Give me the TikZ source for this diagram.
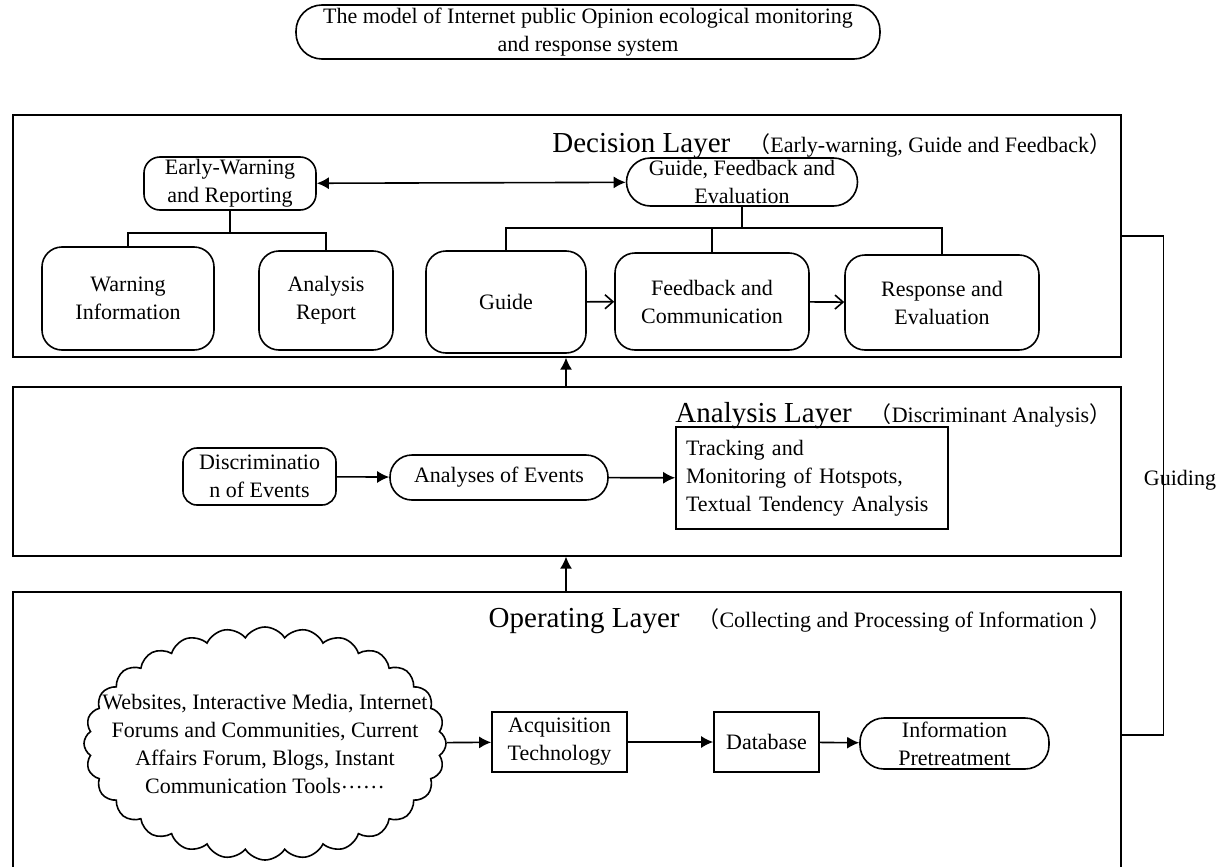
\documentclass[tikz,border=0pt]{standalone}
\usepackage{fontspec}
\setmainfont{Liberation Serif}
\newfontfamily\cjk{Noto Sans CJK SC}
\usepackage{tikz}
\usetikzlibrary{arrows.meta,shapes.symbols}

\newcommand{\remark}[1]{\hspace{9pt}{\fontsize{11}{14}\selectfont{\cjk （}#1{\cjk ）}}}

\begin{document}
\begin{tikzpicture}[-,>={Latex[length=6pt,width=6pt]},thick,x=0.5pt,y=-0.5pt,
  every node/.style={font=\fontsize{11}{14}\selectfont,align=center,inner sep=0pt},
  layer/.style={draw,anchor=north west,minimum width=554pt},
  head/.style={anchor=base east,font=\fontsize{14.5}{17}\selectfont},
  rbox/.style={draw,rounded corners=10pt},
  pill/.style={draw,rounded corners=12pt},
  sbox/.style={draw},
  open/.style={-{Straight Barb[length=4pt,width=7pt]}}]

\useasboundingbox (0,0) rectangle (1226,867);

\node[pill,rounded corners=13pt,minimum width=292pt,minimum height=27pt] (title) at (588,32)
  {The model of Internet public Opinion ecological monitoring\\and response system};

% the three layers
\node[layer,minimum height=121pt] (dec) at (12,114) {};
\node[layer,minimum height=84.5pt] (ana) at (12,386) {};
\node[layer,minimum height=143pt] (ope) at (12,591) {};

\node[head] (dech) at (1112,152) {Decision Layer\remark{Early-warning, Guide and Feedback}};
\node[head] (anah) at (1112,422) {Analysis Layer\remark{Discriminant Analysis}};
\node[head] (opeh) at (1112,627) {Operating Layer\remark{Collecting and Processing of Information }};

% decision layer
\node[rbox,rounded corners=8pt,minimum width=86pt,minimum height=26.5pt] (ew) at (230,183.5) {Early-Warning\\and Reporting};
\node[pill,minimum width=115.5pt,minimum height=24pt] (gfe) at (742,182) {Guide, Feedback and\\Evaluation};

\node[rbox,minimum width=86pt,minimum height=51.5pt] (warn) at (128,298.5) {Warning\\Information};
\node[rbox,minimum width=67pt,minimum height=49.5pt] (arep) at (326,300.5) {Analysis\\Report};
\node[rbox,minimum width=80pt,minimum height=51pt]   (guide) at (506,302) {Guide};
\node[rbox,minimum width=97pt,minimum height=48.5pt] (fbc) at (712,301.5) {Feedback and\\Communication};
\node[rbox,minimum width=97pt,minimum height=47.5pt] (resp) at (942,302.5) {Response and\\Evaluation};

% analysis layer
\node[rbox,rounded corners=7pt,minimum width=76.5pt,minimum height=28.5pt] (discr) at (259.5,476.5) {Discriminatio\\n of Events};
\node[pill,rounded corners=11pt,minimum width=109pt,minimum height=22.5pt] (aoe) at (499,477.5) {Analyses of Events};
\node[sbox,text width=126pt,align=left,inner sep=5pt,minimum height=51pt] (track) at (812,478)
  {Tracking and\\Monitoring of Hotspots,\\Textual Tendency Analysis};

% operating layer
\node[cloud,draw,cloud puffs=28,cloud puff arc=115,cloud ignores aspect,
  minimum width=181pt,minimum height=116.5pt] (cloud) at (265,743.5) {};
\node (cloudtxt) at (cloud.center) {Websites, Interactive Media, Internet\\Forums and Communities, Current\\Affairs Forum, Blogs, Instant\\Communication Tools\raisebox{2.5pt}{……}};
\node[sbox,minimum width=67.5pt,minimum height=30pt] (acq) at (559.5,742) {Acquisition\\Technology};
\node[sbox,minimum width=52.5pt,minimum height=30pt] (db) at (766.5,742) {Database};
\node[pill,minimum width=94.5pt,minimum height=25.5pt] (info) at (954.5,743.5) {Information\\Pretreatment};

\node[anchor=base] (guiding) at (1180,485) {Guiding};

% tree lines
\draw (ew.south) -- ++(0,22) -| (warn.north);
\draw (ew.south) -- ++(0,22) -| (arep.north);
\draw (gfe.south) -- ++(0,21) -| (guide.north);
\draw (gfe.south) -- ++(0,21) -| (fbc.north);
\draw (gfe.south) -- ++(0,21) -| (resp.north);

\path
	(ew) edge[<->] (gfe)
	(guide) edge[open] (fbc)
	(fbc) edge[open] (resp);
\path
	(discr) edge[->] (aoe)
	(aoe) edge[->] (track);
\path
	(cloud) edge[->] (acq)
	(acq) edge[->] (db)
	(db) edge[->] (info);

% between the layers
\coordinate (ax) at (566,0);
\path
	(ana.north -| ax) edge[->] (dec.south -| ax)
	(ope.north -| ax) edge[->] (ana.south -| ax);

\draw (dec.east) -- ++(42,0) |- (ope.east);

\end{tikzpicture}
\end{document}
